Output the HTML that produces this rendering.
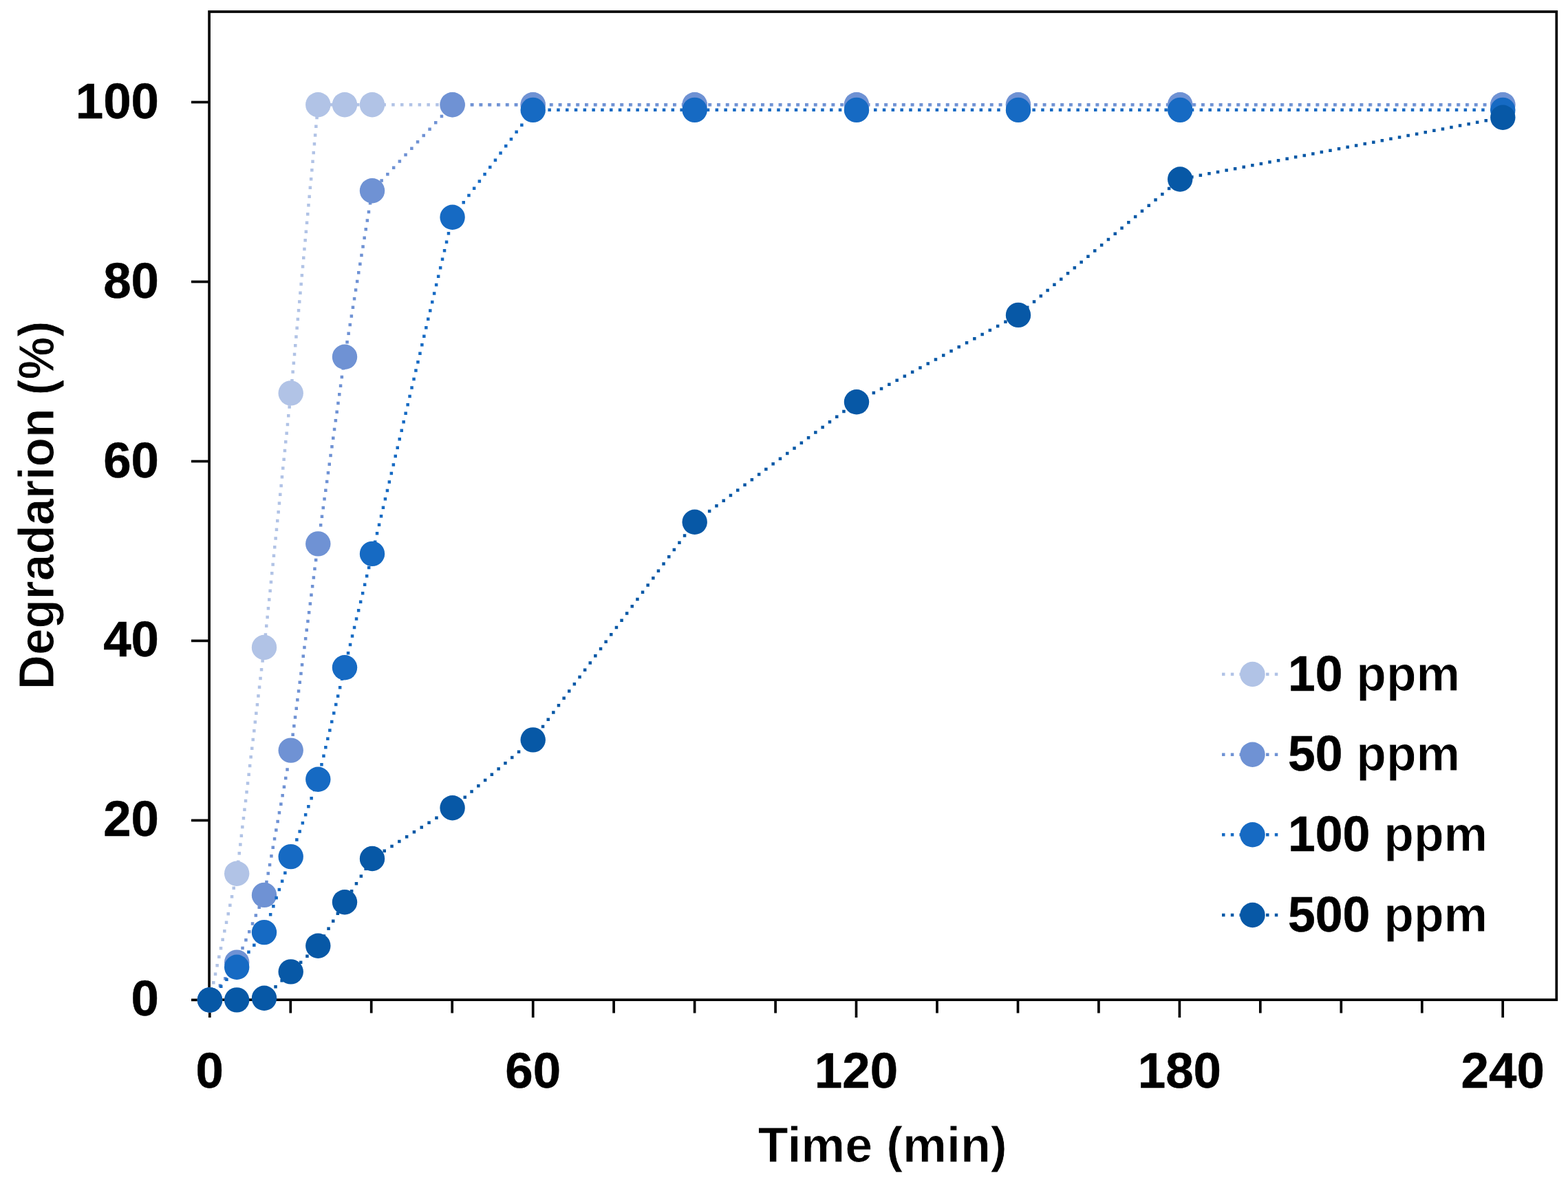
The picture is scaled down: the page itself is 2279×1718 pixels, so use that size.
<!DOCTYPE html>
<html><head><meta charset="utf-8"><title>Degradation vs Time</title>
<style>
html,body{margin:0;padding:0;background:#fff;}
body{width:2279px;height:1718px;overflow:hidden;}
svg{display:block;}
text{font-family:'Liberation Sans', Arial, sans-serif;font-weight:bold;fill:#000;}
</style></head><body>
<svg width="2279" height="1718" viewBox="0 0 2279 1718">
<rect x="0" y="0" width="2279" height="1718" fill="#fff"/>
<rect x="304.1" y="17.0" width="1958.2" height="1436.2" fill="none" stroke="#000" stroke-width="3.7"/>
<line x1="278" y1="1453.4" x2="304.1" y2="1453.4" stroke="#000" stroke-width="3.7"/>
<line x1="278" y1="1192.4" x2="304.1" y2="1192.4" stroke="#000" stroke-width="3.7"/>
<line x1="278" y1="931.4" x2="304.1" y2="931.4" stroke="#000" stroke-width="3.7"/>
<line x1="278" y1="670.5" x2="304.1" y2="670.5" stroke="#000" stroke-width="3.7"/>
<line x1="278" y1="409.5" x2="304.1" y2="409.5" stroke="#000" stroke-width="3.7"/>
<line x1="278" y1="148.5" x2="304.1" y2="148.5" stroke="#000" stroke-width="3.7"/>
<line x1="304.8" y1="1453.2" x2="304.8" y2="1479.0" stroke="#000" stroke-width="3.7"/>
<line x1="422.3" y1="1453.2" x2="422.3" y2="1472.5" stroke="#000" stroke-width="3.7"/>
<line x1="539.7" y1="1453.2" x2="539.7" y2="1472.5" stroke="#000" stroke-width="3.7"/>
<line x1="657.2" y1="1453.2" x2="657.2" y2="1472.5" stroke="#000" stroke-width="3.7"/>
<line x1="774.7" y1="1453.2" x2="774.7" y2="1479.0" stroke="#000" stroke-width="3.7"/>
<line x1="892.1" y1="1453.2" x2="892.1" y2="1472.5" stroke="#000" stroke-width="3.7"/>
<line x1="1009.6" y1="1453.2" x2="1009.6" y2="1472.5" stroke="#000" stroke-width="3.7"/>
<line x1="1127.1" y1="1453.2" x2="1127.1" y2="1472.5" stroke="#000" stroke-width="3.7"/>
<line x1="1244.5" y1="1453.2" x2="1244.5" y2="1479.0" stroke="#000" stroke-width="3.7"/>
<line x1="1362.0" y1="1453.2" x2="1362.0" y2="1472.5" stroke="#000" stroke-width="3.7"/>
<line x1="1479.5" y1="1453.2" x2="1479.5" y2="1472.5" stroke="#000" stroke-width="3.7"/>
<line x1="1596.9" y1="1453.2" x2="1596.9" y2="1472.5" stroke="#000" stroke-width="3.7"/>
<line x1="1714.4" y1="1453.2" x2="1714.4" y2="1479.0" stroke="#000" stroke-width="3.7"/>
<line x1="1831.8" y1="1453.2" x2="1831.8" y2="1472.5" stroke="#000" stroke-width="3.7"/>
<line x1="1949.3" y1="1453.2" x2="1949.3" y2="1472.5" stroke="#000" stroke-width="3.7"/>
<line x1="2066.8" y1="1453.2" x2="2066.8" y2="1472.5" stroke="#000" stroke-width="3.7"/>
<line x1="2184.2" y1="1453.2" x2="2184.2" y2="1479.0" stroke="#000" stroke-width="3.7"/>
<text x="231" y="1476.4" font-size="72.7" text-anchor="end" stroke="#000" stroke-width="0.5">0</text>
<text x="231" y="1215.4" font-size="72.7" text-anchor="end" stroke="#000" stroke-width="0.5">20</text>
<text x="231" y="954.4" font-size="72.7" text-anchor="end" stroke="#000" stroke-width="0.5">40</text>
<text x="231" y="693.5" font-size="72.7" text-anchor="end" stroke="#000" stroke-width="0.5">60</text>
<text x="231" y="432.5" font-size="72.7" text-anchor="end" stroke="#000" stroke-width="0.5">80</text>
<text x="231" y="171.5" font-size="72.7" text-anchor="end" stroke="#000" stroke-width="0.5">100</text>
<text x="304.8" y="1581" font-size="72.7" text-anchor="middle" stroke="#000" stroke-width="0.5">0</text>
<text x="774.7" y="1581" font-size="72.7" text-anchor="middle" stroke="#000" stroke-width="0.5">60</text>
<text x="1244.5" y="1581" font-size="72.7" text-anchor="middle" stroke="#000" stroke-width="0.5">120</text>
<text x="1714.4" y="1581" font-size="72.7" text-anchor="middle" stroke="#000" stroke-width="0.5">180</text>
<text x="2184.2" y="1581" font-size="72.7" text-anchor="middle" stroke="#000" stroke-width="0.5">240</text>
<text x="1282.8" y="1688.7" font-size="72.7" text-anchor="middle" textLength="362" lengthAdjust="spacingAndGlyphs" stroke="#fff" stroke-width="0.9">Time (min)</text>
<text transform="translate(77.5,734.4) rotate(-90)" x="0" y="0" font-size="72.7" text-anchor="middle" textLength="535.5" lengthAdjust="spacingAndGlyphs" stroke="#fff" stroke-width="0.9">Degradarion (%)</text>
<path fill="#b1c3e6" d="M302.8 1451.2h4.5v4.5h-4.5zM305.4 1438.6h4.5v4.5h-4.5zM308.1 1426.1h4.5v4.5h-4.5zM310.8 1413.6h4.5v4.5h-4.5zM313.4 1401.1h4.5v4.5h-4.5zM316.1 1388.6h4.5v4.5h-4.5zM318.8 1376.0h4.5v4.5h-4.5zM321.4 1363.5h4.5v4.5h-4.5zM324.1 1351.0h4.5v4.5h-4.5zM326.8 1338.5h4.5v4.5h-4.5zM329.5 1326.0h4.5v4.5h-4.5zM332.1 1313.4h4.5v4.5h-4.5zM334.8 1300.9h4.5v4.5h-4.5zM337.5 1288.4h4.5v4.5h-4.5zM340.1 1275.9h4.5v4.5h-4.5zM342.4 1263.3h4.5v4.5h-4.5zM344.0 1250.6h4.5v4.5h-4.5zM345.5 1237.9h4.5v4.5h-4.5zM347.1 1225.2h4.5v4.5h-4.5zM348.6 1212.5h4.5v4.5h-4.5zM350.1 1199.8h4.5v4.5h-4.5zM351.7 1187.1h4.5v4.5h-4.5zM353.2 1174.4h4.5v4.5h-4.5zM354.8 1161.7h4.5v4.5h-4.5zM356.3 1149.0h4.5v4.5h-4.5zM357.8 1136.2h4.5v4.5h-4.5zM359.4 1123.5h4.5v4.5h-4.5zM360.9 1110.8h4.5v4.5h-4.5zM362.4 1098.1h4.5v4.5h-4.5zM364.0 1085.4h4.5v4.5h-4.5zM365.5 1072.7h4.5v4.5h-4.5zM367.1 1060.0h4.5v4.5h-4.5zM368.6 1047.3h4.5v4.5h-4.5zM370.1 1034.6h4.5v4.5h-4.5zM371.7 1021.9h4.5v4.5h-4.5zM373.2 1009.2h4.5v4.5h-4.5zM374.8 996.5h4.5v4.5h-4.5zM376.3 983.8h4.5v4.5h-4.5zM377.8 971.0h4.5v4.5h-4.5zM379.4 958.3h4.5v4.5h-4.5zM380.9 945.6h4.5v4.5h-4.5zM382.4 932.9h4.5v4.5h-4.5zM383.7 920.2h4.5v4.5h-4.5zM385.0 907.5h4.5v4.5h-4.5zM386.4 894.7h4.5v4.5h-4.5zM387.7 882.0h4.5v4.5h-4.5zM389.0 869.3h4.5v4.5h-4.5zM390.4 856.5h4.5v4.5h-4.5zM391.7 843.8h4.5v4.5h-4.5zM393.0 831.1h4.5v4.5h-4.5zM394.4 818.3h4.5v4.5h-4.5zM395.7 805.6h4.5v4.5h-4.5zM397.0 792.9h4.5v4.5h-4.5zM398.4 780.2h4.5v4.5h-4.5zM399.7 767.4h4.5v4.5h-4.5zM401.0 754.7h4.5v4.5h-4.5zM402.4 742.0h4.5v4.5h-4.5zM403.7 729.2h4.5v4.5h-4.5zM405.0 716.5h4.5v4.5h-4.5zM406.4 703.8h4.5v4.5h-4.5zM407.7 691.0h4.5v4.5h-4.5zM409.0 678.3h4.5v4.5h-4.5zM410.4 665.6h4.5v4.5h-4.5zM411.7 652.8h4.5v4.5h-4.5zM413.0 640.1h4.5v4.5h-4.5zM414.4 627.4h4.5v4.5h-4.5zM415.7 614.7h4.5v4.5h-4.5zM417.0 601.9h4.5v4.5h-4.5zM418.4 589.2h4.5v4.5h-4.5zM419.7 576.5h4.5v4.5h-4.5zM421.0 563.7h4.5v4.5h-4.5zM422.2 551.0h4.5v4.5h-4.5zM423.4 538.2h4.5v4.5h-4.5zM424.6 525.5h4.5v4.5h-4.5zM425.8 512.8h4.5v4.5h-4.5zM427.0 500.0h4.5v4.5h-4.5zM428.2 487.3h4.5v4.5h-4.5zM429.4 474.5h4.5v4.5h-4.5zM430.6 461.8h4.5v4.5h-4.5zM431.8 449.0h4.5v4.5h-4.5zM433.0 436.3h4.5v4.5h-4.5zM434.2 423.6h4.5v4.5h-4.5zM435.4 410.8h4.5v4.5h-4.5zM436.6 398.1h4.5v4.5h-4.5zM437.8 385.3h4.5v4.5h-4.5zM439.0 372.6h4.5v4.5h-4.5zM440.2 359.8h4.5v4.5h-4.5zM441.4 347.1h4.5v4.5h-4.5zM442.6 334.4h4.5v4.5h-4.5zM443.8 321.6h4.5v4.5h-4.5zM445.0 308.9h4.5v4.5h-4.5zM446.2 296.1h4.5v4.5h-4.5zM447.4 283.4h4.5v4.5h-4.5zM448.6 270.6h4.5v4.5h-4.5zM449.9 257.9h4.5v4.5h-4.5zM451.1 245.1h4.5v4.5h-4.5zM452.3 232.4h4.5v4.5h-4.5zM453.5 219.7h4.5v4.5h-4.5zM454.7 206.9h4.5v4.5h-4.5zM455.9 194.2h4.5v4.5h-4.5zM457.1 181.4h4.5v4.5h-4.5zM458.3 168.7h4.5v4.5h-4.5zM459.5 155.9h4.5v4.5h-4.5zM466.8 149.9h4.5v4.5h-4.5zM479.6 149.9h4.5v4.5h-4.5zM492.4 149.9h4.5v4.5h-4.5zM505.2 149.9h4.5v4.5h-4.5zM518.0 149.9h4.5v4.5h-4.5zM530.8 149.9h4.5v4.5h-4.5zM543.6 149.9h4.5v4.5h-4.5zM556.4 149.9h4.5v4.5h-4.5zM569.2 149.9h4.5v4.5h-4.5zM582.0 149.9h4.5v4.5h-4.5zM594.8 149.9h4.5v4.5h-4.5zM607.6 149.9h4.5v4.5h-4.5zM620.4 149.9h4.5v4.5h-4.5zM633.2 149.9h4.5v4.5h-4.5zM646.0 149.9h4.5v4.5h-4.5zM658.8 149.9h4.5v4.5h-4.5zM671.6 149.9h4.5v4.5h-4.5zM684.4 149.9h4.5v4.5h-4.5zM697.2 149.9h4.5v4.5h-4.5zM710.0 149.9h4.5v4.5h-4.5zM722.8 149.9h4.5v4.5h-4.5zM735.6 149.9h4.5v4.5h-4.5zM748.4 149.9h4.5v4.5h-4.5zM761.2 149.9h4.5v4.5h-4.5zM774.0 149.9h4.5v4.5h-4.5zM786.8 149.9h4.5v4.5h-4.5zM799.6 149.9h4.5v4.5h-4.5zM812.4 149.9h4.5v4.5h-4.5zM825.2 149.9h4.5v4.5h-4.5zM838.0 149.9h4.5v4.5h-4.5zM850.8 149.9h4.5v4.5h-4.5zM863.6 149.9h4.5v4.5h-4.5zM876.4 149.9h4.5v4.5h-4.5zM889.2 149.9h4.5v4.5h-4.5zM902.0 149.9h4.5v4.5h-4.5zM914.8 149.9h4.5v4.5h-4.5zM927.6 149.9h4.5v4.5h-4.5zM940.4 149.9h4.5v4.5h-4.5zM953.2 149.9h4.5v4.5h-4.5zM966.0 149.9h4.5v4.5h-4.5zM978.8 149.9h4.5v4.5h-4.5zM991.6 149.9h4.5v4.5h-4.5zM1004.4 149.9h4.5v4.5h-4.5zM1017.2 149.9h4.5v4.5h-4.5zM1030.0 149.9h4.5v4.5h-4.5zM1042.8 149.9h4.5v4.5h-4.5zM1055.6 149.9h4.5v4.5h-4.5zM1068.4 149.9h4.5v4.5h-4.5zM1081.2 149.9h4.5v4.5h-4.5zM1094.0 149.9h4.5v4.5h-4.5zM1106.8 149.9h4.5v4.5h-4.5zM1119.6 149.9h4.5v4.5h-4.5zM1132.4 149.9h4.5v4.5h-4.5zM1145.2 149.9h4.5v4.5h-4.5zM1158.0 149.9h4.5v4.5h-4.5zM1170.8 149.9h4.5v4.5h-4.5zM1183.6 149.9h4.5v4.5h-4.5zM1196.4 149.9h4.5v4.5h-4.5zM1209.2 149.9h4.5v4.5h-4.5zM1222.0 149.9h4.5v4.5h-4.5zM1234.8 149.9h4.5v4.5h-4.5zM1247.6 149.9h4.5v4.5h-4.5zM1260.4 149.9h4.5v4.5h-4.5zM1273.2 149.9h4.5v4.5h-4.5zM1286.0 149.9h4.5v4.5h-4.5zM1298.8 149.9h4.5v4.5h-4.5zM1311.6 149.9h4.5v4.5h-4.5zM1324.4 149.9h4.5v4.5h-4.5zM1337.2 149.9h4.5v4.5h-4.5zM1350.0 149.9h4.5v4.5h-4.5zM1362.8 149.9h4.5v4.5h-4.5zM1375.6 149.9h4.5v4.5h-4.5zM1388.4 149.9h4.5v4.5h-4.5zM1401.2 149.9h4.5v4.5h-4.5zM1414.0 149.9h4.5v4.5h-4.5zM1426.8 149.9h4.5v4.5h-4.5zM1439.6 149.9h4.5v4.5h-4.5zM1452.4 149.9h4.5v4.5h-4.5zM1465.2 149.9h4.5v4.5h-4.5zM1478.0 149.9h4.5v4.5h-4.5zM1490.8 149.9h4.5v4.5h-4.5zM1503.6 149.9h4.5v4.5h-4.5zM1516.4 149.9h4.5v4.5h-4.5zM1529.2 149.9h4.5v4.5h-4.5zM1542.0 149.9h4.5v4.5h-4.5zM1554.8 149.9h4.5v4.5h-4.5zM1567.6 149.9h4.5v4.5h-4.5zM1580.4 149.9h4.5v4.5h-4.5zM1593.2 149.9h4.5v4.5h-4.5zM1606.0 149.9h4.5v4.5h-4.5zM1618.8 149.9h4.5v4.5h-4.5zM1631.6 149.9h4.5v4.5h-4.5zM1644.4 149.9h4.5v4.5h-4.5zM1657.2 149.9h4.5v4.5h-4.5zM1670.0 149.9h4.5v4.5h-4.5zM1682.8 149.9h4.5v4.5h-4.5zM1695.6 149.9h4.5v4.5h-4.5zM1708.4 149.9h4.5v4.5h-4.5zM1721.2 149.9h4.5v4.5h-4.5zM1734.0 149.9h4.5v4.5h-4.5zM1746.8 149.9h4.5v4.5h-4.5zM1759.6 149.9h4.5v4.5h-4.5zM1772.4 149.9h4.5v4.5h-4.5zM1785.2 149.9h4.5v4.5h-4.5zM1798.0 149.9h4.5v4.5h-4.5zM1810.8 149.9h4.5v4.5h-4.5zM1823.6 149.9h4.5v4.5h-4.5zM1836.4 149.9h4.5v4.5h-4.5zM1849.2 149.9h4.5v4.5h-4.5zM1862.0 149.9h4.5v4.5h-4.5zM1874.8 149.9h4.5v4.5h-4.5zM1887.6 149.9h4.5v4.5h-4.5zM1900.4 149.9h4.5v4.5h-4.5zM1913.2 149.9h4.5v4.5h-4.5zM1926.0 149.9h4.5v4.5h-4.5zM1938.8 149.9h4.5v4.5h-4.5zM1951.6 149.9h4.5v4.5h-4.5zM1964.4 149.9h4.5v4.5h-4.5zM1977.2 149.9h4.5v4.5h-4.5zM1990.0 149.9h4.5v4.5h-4.5zM2002.8 149.9h4.5v4.5h-4.5zM2015.6 149.9h4.5v4.5h-4.5zM2028.4 149.9h4.5v4.5h-4.5zM2041.2 149.9h4.5v4.5h-4.5zM2054.0 149.9h4.5v4.5h-4.5zM2066.8 149.9h4.5v4.5h-4.5zM2079.6 149.9h4.5v4.5h-4.5zM2092.4 149.9h4.5v4.5h-4.5zM2105.2 149.9h4.5v4.5h-4.5zM2118.0 149.9h4.5v4.5h-4.5zM2130.8 149.9h4.5v4.5h-4.5zM2143.6 149.9h4.5v4.5h-4.5zM2156.4 149.9h4.5v4.5h-4.5zM2169.2 149.9h4.5v4.5h-4.5zM2182.0 149.9h4.5v4.5h-4.5z"/>
<circle cx="305.0" cy="1453.4" r="18.2" fill="#b1c3e6"/>
<circle cx="344.2" cy="1269.7" r="18.2" fill="#b1c3e6"/>
<circle cx="384.0" cy="941.0" r="18.2" fill="#b1c3e6"/>
<circle cx="422.7" cy="571.4" r="18.2" fill="#b1c3e6"/>
<circle cx="462.3" cy="152.2" r="18.2" fill="#b1c3e6"/>
<circle cx="501.0" cy="152.2" r="18.2" fill="#b1c3e6"/>
<circle cx="541.0" cy="152.2" r="18.2" fill="#b1c3e6"/>
<circle cx="657.6" cy="152.2" r="18.2" fill="#b1c3e6"/>
<circle cx="774.7" cy="152.2" r="18.2" fill="#b1c3e6"/>
<circle cx="1009.7" cy="152.2" r="18.2" fill="#b1c3e6"/>
<circle cx="1245.0" cy="152.2" r="18.2" fill="#b1c3e6"/>
<circle cx="1480.0" cy="152.2" r="18.2" fill="#b1c3e6"/>
<circle cx="1715.2" cy="152.2" r="18.2" fill="#b1c3e6"/>
<circle cx="2184.3" cy="152.2" r="18.2" fill="#b1c3e6"/>
<path fill="#6f92d4" d="M302.8 1451.2h4.5v4.5h-4.5zM310.2 1440.7h4.5v4.5h-4.5zM317.6 1430.3h4.5v4.5h-4.5zM325.1 1419.9h4.5v4.5h-4.5zM332.5 1409.5h4.5v4.5h-4.5zM340.0 1399.1h4.5v4.5h-4.5zM345.5 1387.6h4.5v4.5h-4.5zM350.3 1375.8h4.5v4.5h-4.5zM355.2 1363.9h4.5v4.5h-4.5zM360.0 1352.1h4.5v4.5h-4.5zM364.8 1340.2h4.5v4.5h-4.5zM369.6 1328.3h4.5v4.5h-4.5zM374.5 1316.5h4.5v4.5h-4.5zM379.3 1304.6h4.5v4.5h-4.5zM382.9 1292.4h4.5v4.5h-4.5zM385.2 1279.8h4.5v4.5h-4.5zM387.5 1267.2h4.5v4.5h-4.5zM389.8 1254.7h4.5v4.5h-4.5zM392.2 1242.1h4.5v4.5h-4.5zM394.5 1229.5h4.5v4.5h-4.5zM396.8 1216.9h4.5v4.5h-4.5zM399.1 1204.3h4.5v4.5h-4.5zM401.4 1191.7h4.5v4.5h-4.5zM403.7 1179.1h4.5v4.5h-4.5zM406.1 1166.5h4.5v4.5h-4.5zM408.4 1153.9h4.5v4.5h-4.5zM410.7 1141.4h4.5v4.5h-4.5zM413.0 1128.8h4.5v4.5h-4.5zM415.3 1116.2h4.5v4.5h-4.5zM417.7 1103.6h4.5v4.5h-4.5zM420.0 1091.0h4.5v4.5h-4.5zM421.8 1078.3h4.5v4.5h-4.5zM423.4 1065.6h4.5v4.5h-4.5zM425.1 1053.0h4.5v4.5h-4.5zM426.8 1040.3h4.5v4.5h-4.5zM428.5 1027.6h4.5v4.5h-4.5zM430.1 1014.9h4.5v4.5h-4.5zM431.8 1002.2h4.5v4.5h-4.5zM433.5 989.5h4.5v4.5h-4.5zM435.2 976.8h4.5v4.5h-4.5zM436.8 964.1h4.5v4.5h-4.5zM438.5 951.4h4.5v4.5h-4.5zM440.2 938.7h4.5v4.5h-4.5zM441.9 926.1h4.5v4.5h-4.5zM443.5 913.4h4.5v4.5h-4.5zM445.2 900.7h4.5v4.5h-4.5zM446.9 888.0h4.5v4.5h-4.5zM448.6 875.3h4.5v4.5h-4.5zM450.2 862.6h4.5v4.5h-4.5zM451.9 849.9h4.5v4.5h-4.5zM453.6 837.2h4.5v4.5h-4.5zM455.2 824.5h4.5v4.5h-4.5zM456.9 811.8h4.5v4.5h-4.5zM458.6 799.2h4.5v4.5h-4.5zM460.3 786.5h4.5v4.5h-4.5zM462.1 773.8h4.5v4.5h-4.5zM463.9 761.1h4.5v4.5h-4.5zM465.7 748.5h4.5v4.5h-4.5zM467.5 735.8h4.5v4.5h-4.5zM469.3 723.1h4.5v4.5h-4.5zM471.1 710.4h4.5v4.5h-4.5zM472.9 697.8h4.5v4.5h-4.5zM474.7 685.1h4.5v4.5h-4.5zM476.5 672.4h4.5v4.5h-4.5zM478.3 659.7h4.5v4.5h-4.5zM480.2 647.1h4.5v4.5h-4.5zM482.0 634.4h4.5v4.5h-4.5zM483.8 621.7h4.5v4.5h-4.5zM485.6 609.1h4.5v4.5h-4.5zM487.4 596.4h4.5v4.5h-4.5zM489.2 583.7h4.5v4.5h-4.5zM491.0 571.0h4.5v4.5h-4.5zM492.8 558.4h4.5v4.5h-4.5zM494.6 545.7h4.5v4.5h-4.5zM496.4 533.0h4.5v4.5h-4.5zM498.2 520.4h4.5v4.5h-4.5zM500.2 507.7h4.5v4.5h-4.5zM502.3 495.1h4.5v4.5h-4.5zM504.4 482.5h4.5v4.5h-4.5zM506.5 469.8h4.5v4.5h-4.5zM508.6 457.2h4.5v4.5h-4.5zM510.7 444.6h4.5v4.5h-4.5zM512.8 431.9h4.5v4.5h-4.5zM514.8 419.3h4.5v4.5h-4.5zM516.9 406.7h4.5v4.5h-4.5zM519.0 394.1h4.5v4.5h-4.5zM521.1 381.4h4.5v4.5h-4.5zM523.2 368.8h4.5v4.5h-4.5zM525.3 356.2h4.5v4.5h-4.5zM527.4 343.5h4.5v4.5h-4.5zM529.5 330.9h4.5v4.5h-4.5zM531.6 318.3h4.5v4.5h-4.5zM533.7 305.7h4.5v4.5h-4.5zM535.8 293.0h4.5v4.5h-4.5zM537.8 280.4h4.5v4.5h-4.5zM543.7 269.6h4.5v4.5h-4.5zM552.4 260.3h4.5v4.5h-4.5zM561.1 250.9h4.5v4.5h-4.5zM569.9 241.5h4.5v4.5h-4.5zM578.6 232.2h4.5v4.5h-4.5zM587.3 222.8h4.5v4.5h-4.5zM596.1 213.5h4.5v4.5h-4.5zM604.8 204.1h4.5v4.5h-4.5zM613.5 194.7h4.5v4.5h-4.5zM622.3 185.4h4.5v4.5h-4.5zM631.0 176.0h4.5v4.5h-4.5zM639.7 166.7h4.5v4.5h-4.5zM648.4 157.3h4.5v4.5h-4.5zM658.0 149.9h4.5v4.5h-4.5zM670.8 149.9h4.5v4.5h-4.5zM683.6 149.9h4.5v4.5h-4.5zM696.4 149.9h4.5v4.5h-4.5zM709.2 149.9h4.5v4.5h-4.5zM722.0 149.9h4.5v4.5h-4.5zM734.8 149.9h4.5v4.5h-4.5zM747.6 149.9h4.5v4.5h-4.5zM760.4 149.9h4.5v4.5h-4.5zM773.2 149.9h4.5v4.5h-4.5zM786.0 149.9h4.5v4.5h-4.5zM798.8 149.9h4.5v4.5h-4.5zM811.6 149.9h4.5v4.5h-4.5zM824.4 149.9h4.5v4.5h-4.5zM837.2 149.9h4.5v4.5h-4.5zM850.0 149.9h4.5v4.5h-4.5zM862.8 149.9h4.5v4.5h-4.5zM875.6 149.9h4.5v4.5h-4.5zM888.4 149.9h4.5v4.5h-4.5zM901.2 149.9h4.5v4.5h-4.5zM914.0 149.9h4.5v4.5h-4.5zM926.8 149.9h4.5v4.5h-4.5zM939.6 149.9h4.5v4.5h-4.5zM952.4 149.9h4.5v4.5h-4.5zM965.2 149.9h4.5v4.5h-4.5zM978.0 149.9h4.5v4.5h-4.5zM990.8 149.9h4.5v4.5h-4.5zM1003.6 149.9h4.5v4.5h-4.5zM1016.4 149.9h4.5v4.5h-4.5zM1029.2 149.9h4.5v4.5h-4.5zM1042.0 149.9h4.5v4.5h-4.5zM1054.8 149.9h4.5v4.5h-4.5zM1067.6 149.9h4.5v4.5h-4.5zM1080.4 149.9h4.5v4.5h-4.5zM1093.2 149.9h4.5v4.5h-4.5zM1106.0 149.9h4.5v4.5h-4.5zM1118.8 149.9h4.5v4.5h-4.5zM1131.6 149.9h4.5v4.5h-4.5zM1144.4 149.9h4.5v4.5h-4.5zM1157.2 149.9h4.5v4.5h-4.5zM1170.0 149.9h4.5v4.5h-4.5zM1182.8 149.9h4.5v4.5h-4.5zM1195.6 149.9h4.5v4.5h-4.5zM1208.4 149.9h4.5v4.5h-4.5zM1221.2 149.9h4.5v4.5h-4.5zM1234.0 149.9h4.5v4.5h-4.5zM1246.8 149.9h4.5v4.5h-4.5zM1259.6 149.9h4.5v4.5h-4.5zM1272.4 149.9h4.5v4.5h-4.5zM1285.2 149.9h4.5v4.5h-4.5zM1298.0 149.9h4.5v4.5h-4.5zM1310.8 149.9h4.5v4.5h-4.5zM1323.6 149.9h4.5v4.5h-4.5zM1336.4 149.9h4.5v4.5h-4.5zM1349.2 149.9h4.5v4.5h-4.5zM1362.0 149.9h4.5v4.5h-4.5zM1374.8 149.9h4.5v4.5h-4.5zM1387.6 149.9h4.5v4.5h-4.5zM1400.4 149.9h4.5v4.5h-4.5zM1413.2 149.9h4.5v4.5h-4.5zM1426.0 149.9h4.5v4.5h-4.5zM1438.8 149.9h4.5v4.5h-4.5zM1451.6 149.9h4.5v4.5h-4.5zM1464.4 149.9h4.5v4.5h-4.5zM1477.2 149.9h4.5v4.5h-4.5zM1490.0 149.9h4.5v4.5h-4.5zM1502.8 149.9h4.5v4.5h-4.5zM1515.6 149.9h4.5v4.5h-4.5zM1528.4 149.9h4.5v4.5h-4.5zM1541.2 149.9h4.5v4.5h-4.5zM1554.0 149.9h4.5v4.5h-4.5zM1566.8 149.9h4.5v4.5h-4.5zM1579.6 149.9h4.5v4.5h-4.5zM1592.4 149.9h4.5v4.5h-4.5zM1605.2 149.9h4.5v4.5h-4.5zM1618.0 149.9h4.5v4.5h-4.5zM1630.8 149.9h4.5v4.5h-4.5zM1643.6 149.9h4.5v4.5h-4.5zM1656.4 149.9h4.5v4.5h-4.5zM1669.2 149.9h4.5v4.5h-4.5zM1682.0 149.9h4.5v4.5h-4.5zM1694.8 149.9h4.5v4.5h-4.5zM1707.6 149.9h4.5v4.5h-4.5zM1720.4 149.9h4.5v4.5h-4.5zM1733.2 149.9h4.5v4.5h-4.5zM1746.0 149.9h4.5v4.5h-4.5zM1758.8 149.9h4.5v4.5h-4.5zM1771.6 149.9h4.5v4.5h-4.5zM1784.4 149.9h4.5v4.5h-4.5zM1797.2 149.9h4.5v4.5h-4.5zM1810.0 149.9h4.5v4.5h-4.5zM1822.8 149.9h4.5v4.5h-4.5zM1835.6 149.9h4.5v4.5h-4.5zM1848.4 149.9h4.5v4.5h-4.5zM1861.2 149.9h4.5v4.5h-4.5zM1874.0 149.9h4.5v4.5h-4.5zM1886.8 149.9h4.5v4.5h-4.5zM1899.6 149.9h4.5v4.5h-4.5zM1912.4 149.9h4.5v4.5h-4.5zM1925.2 149.9h4.5v4.5h-4.5zM1938.0 149.9h4.5v4.5h-4.5zM1950.8 149.9h4.5v4.5h-4.5zM1963.6 149.9h4.5v4.5h-4.5zM1976.4 149.9h4.5v4.5h-4.5zM1989.2 149.9h4.5v4.5h-4.5zM2002.0 149.9h4.5v4.5h-4.5zM2014.8 149.9h4.5v4.5h-4.5zM2027.6 149.9h4.5v4.5h-4.5zM2040.4 149.9h4.5v4.5h-4.5zM2053.2 149.9h4.5v4.5h-4.5zM2066.0 149.9h4.5v4.5h-4.5zM2078.8 149.9h4.5v4.5h-4.5zM2091.6 149.9h4.5v4.5h-4.5zM2104.4 149.9h4.5v4.5h-4.5zM2117.2 149.9h4.5v4.5h-4.5zM2130.0 149.9h4.5v4.5h-4.5zM2142.8 149.9h4.5v4.5h-4.5zM2155.6 149.9h4.5v4.5h-4.5zM2168.4 149.9h4.5v4.5h-4.5zM2181.2 149.9h4.5v4.5h-4.5z"/>
<circle cx="305.0" cy="1453.4" r="18.2" fill="#6f92d4"/>
<circle cx="344.2" cy="1398.6" r="18.2" fill="#6f92d4"/>
<circle cx="384.0" cy="1300.9" r="18.2" fill="#6f92d4"/>
<circle cx="422.7" cy="1090.6" r="18.2" fill="#6f92d4"/>
<circle cx="462.3" cy="790.4" r="18.2" fill="#6f92d4"/>
<circle cx="501.0" cy="518.8" r="18.2" fill="#6f92d4"/>
<circle cx="541.0" cy="277.2" r="18.2" fill="#6f92d4"/>
<circle cx="657.6" cy="152.2" r="18.2" fill="#6f92d4"/>
<circle cx="774.7" cy="152.2" r="18.2" fill="#6f92d4"/>
<circle cx="1009.7" cy="152.2" r="18.2" fill="#6f92d4"/>
<circle cx="1245.0" cy="152.2" r="18.2" fill="#6f92d4"/>
<circle cx="1480.0" cy="152.2" r="18.2" fill="#6f92d4"/>
<circle cx="1715.2" cy="152.2" r="18.2" fill="#6f92d4"/>
<circle cx="2184.3" cy="152.2" r="18.2" fill="#6f92d4"/>
<path fill="#166ac3" d="M302.8 1451.2h4.5v4.5h-4.5zM310.9 1441.3h4.5v4.5h-4.5zM319.0 1431.4h4.5v4.5h-4.5zM327.2 1421.5h4.5v4.5h-4.5zM335.3 1411.6h4.5v4.5h-4.5zM343.4 1401.7h4.5v4.5h-4.5zM351.3 1391.6h4.5v4.5h-4.5zM359.2 1381.6h4.5v4.5h-4.5zM367.1 1371.5h4.5v4.5h-4.5zM375.0 1361.4h4.5v4.5h-4.5zM382.4 1351.1h4.5v4.5h-4.5zM386.6 1339.0h4.5v4.5h-4.5zM390.9 1326.9h4.5v4.5h-4.5zM395.1 1314.9h4.5v4.5h-4.5zM399.4 1302.8h4.5v4.5h-4.5zM403.6 1290.7h4.5v4.5h-4.5zM407.9 1278.6h4.5v4.5h-4.5zM412.1 1266.6h4.5v4.5h-4.5zM416.4 1254.5h4.5v4.5h-4.5zM420.6 1242.4h4.5v4.5h-4.5zM424.9 1230.3h4.5v4.5h-4.5zM429.1 1218.3h4.5v4.5h-4.5zM433.4 1206.2h4.5v4.5h-4.5zM437.6 1194.1h4.5v4.5h-4.5zM441.9 1182.1h4.5v4.5h-4.5zM446.1 1170.0h4.5v4.5h-4.5zM450.4 1157.9h4.5v4.5h-4.5zM454.7 1145.8h4.5v4.5h-4.5zM458.9 1133.8h4.5v4.5h-4.5zM462.2 1121.4h4.5v4.5h-4.5zM465.2 1109.0h4.5v4.5h-4.5zM468.2 1096.5h4.5v4.5h-4.5zM471.1 1084.1h4.5v4.5h-4.5zM474.1 1071.6h4.5v4.5h-4.5zM477.1 1059.2h4.5v4.5h-4.5zM480.0 1046.7h4.5v4.5h-4.5zM483.0 1034.3h4.5v4.5h-4.5zM486.0 1021.8h4.5v4.5h-4.5zM488.9 1009.4h4.5v4.5h-4.5zM491.9 996.9h4.5v4.5h-4.5zM494.8 984.4h4.5v4.5h-4.5zM497.8 972.0h4.5v4.5h-4.5zM500.8 959.6h4.5v4.5h-4.5zM503.8 947.1h4.5v4.5h-4.5zM506.8 934.7h4.5v4.5h-4.5zM509.8 922.2h4.5v4.5h-4.5zM512.8 909.8h4.5v4.5h-4.5zM515.8 897.3h4.5v4.5h-4.5zM518.9 884.9h4.5v4.5h-4.5zM521.9 872.5h4.5v4.5h-4.5zM524.9 860.0h4.5v4.5h-4.5zM527.9 847.6h4.5v4.5h-4.5zM530.9 835.1h4.5v4.5h-4.5zM533.9 822.7h4.5v4.5h-4.5zM536.9 810.3h4.5v4.5h-4.5zM539.9 797.8h4.5v4.5h-4.5zM542.9 785.4h4.5v4.5h-4.5zM545.8 772.9h4.5v4.5h-4.5zM548.8 760.5h4.5v4.5h-4.5zM551.8 748.0h4.5v4.5h-4.5zM554.7 735.6h4.5v4.5h-4.5zM557.7 723.1h4.5v4.5h-4.5zM560.7 710.7h4.5v4.5h-4.5zM563.6 698.2h4.5v4.5h-4.5zM566.6 685.7h4.5v4.5h-4.5zM569.6 673.3h4.5v4.5h-4.5zM572.5 660.8h4.5v4.5h-4.5zM575.5 648.4h4.5v4.5h-4.5zM578.5 635.9h4.5v4.5h-4.5zM581.5 623.5h4.5v4.5h-4.5zM584.4 611.0h4.5v4.5h-4.5zM587.4 598.6h4.5v4.5h-4.5zM590.4 586.1h4.5v4.5h-4.5zM593.3 573.7h4.5v4.5h-4.5zM596.3 561.2h4.5v4.5h-4.5zM599.3 548.8h4.5v4.5h-4.5zM602.2 536.3h4.5v4.5h-4.5zM605.2 523.9h4.5v4.5h-4.5zM608.2 511.4h4.5v4.5h-4.5zM611.1 499.0h4.5v4.5h-4.5zM614.1 486.5h4.5v4.5h-4.5zM617.1 474.1h4.5v4.5h-4.5zM620.0 461.6h4.5v4.5h-4.5zM623.0 449.2h4.5v4.5h-4.5zM626.0 436.7h4.5v4.5h-4.5zM628.9 424.3h4.5v4.5h-4.5zM631.9 411.8h4.5v4.5h-4.5zM634.9 399.4h4.5v4.5h-4.5zM637.9 386.9h4.5v4.5h-4.5zM640.8 374.5h4.5v4.5h-4.5zM643.8 362.0h4.5v4.5h-4.5zM646.8 349.6h4.5v4.5h-4.5zM649.7 337.1h4.5v4.5h-4.5zM652.7 324.7h4.5v4.5h-4.5zM656.2 312.5h4.5v4.5h-4.5zM663.9 302.2h4.5v4.5h-4.5zM671.5 292.0h4.5v4.5h-4.5zM679.2 281.7h4.5v4.5h-4.5zM686.9 271.5h4.5v4.5h-4.5zM694.6 261.3h4.5v4.5h-4.5zM702.3 251.0h4.5v4.5h-4.5zM710.0 240.8h4.5v4.5h-4.5zM717.7 230.6h4.5v4.5h-4.5zM725.3 220.3h4.5v4.5h-4.5zM733.0 210.1h4.5v4.5h-4.5zM740.7 199.9h4.5v4.5h-4.5zM748.4 189.6h4.5v4.5h-4.5zM756.1 179.4h4.5v4.5h-4.5zM763.8 169.2h4.5v4.5h-4.5zM771.5 158.9h4.5v4.5h-4.5zM783.6 157.6h4.5v4.5h-4.5zM796.4 157.6h4.5v4.5h-4.5zM809.2 157.6h4.5v4.5h-4.5zM822.0 157.6h4.5v4.5h-4.5zM834.8 157.6h4.5v4.5h-4.5zM847.6 157.6h4.5v4.5h-4.5zM860.4 157.6h4.5v4.5h-4.5zM873.2 157.6h4.5v4.5h-4.5zM886.0 157.6h4.5v4.5h-4.5zM898.8 157.6h4.5v4.5h-4.5zM911.6 157.6h4.5v4.5h-4.5zM924.4 157.6h4.5v4.5h-4.5zM937.2 157.6h4.5v4.5h-4.5zM950.0 157.6h4.5v4.5h-4.5zM962.8 157.6h4.5v4.5h-4.5zM975.6 157.6h4.5v4.5h-4.5zM988.4 157.6h4.5v4.5h-4.5zM1001.2 157.6h4.5v4.5h-4.5zM1014.0 157.6h4.5v4.5h-4.5zM1026.8 157.6h4.5v4.5h-4.5zM1039.6 157.6h4.5v4.5h-4.5zM1052.4 157.6h4.5v4.5h-4.5zM1065.2 157.6h4.5v4.5h-4.5zM1078.0 157.6h4.5v4.5h-4.5zM1090.8 157.6h4.5v4.5h-4.5zM1103.6 157.6h4.5v4.5h-4.5zM1116.4 157.6h4.5v4.5h-4.5zM1129.2 157.6h4.5v4.5h-4.5zM1142.0 157.6h4.5v4.5h-4.5zM1154.8 157.6h4.5v4.5h-4.5zM1167.6 157.6h4.5v4.5h-4.5zM1180.4 157.6h4.5v4.5h-4.5zM1193.2 157.6h4.5v4.5h-4.5zM1206.0 157.6h4.5v4.5h-4.5zM1218.8 157.6h4.5v4.5h-4.5zM1231.6 157.6h4.5v4.5h-4.5zM1244.4 157.6h4.5v4.5h-4.5zM1257.2 157.6h4.5v4.5h-4.5zM1270.0 157.6h4.5v4.5h-4.5zM1282.8 157.6h4.5v4.5h-4.5zM1295.6 157.6h4.5v4.5h-4.5zM1308.4 157.6h4.5v4.5h-4.5zM1321.2 157.6h4.5v4.5h-4.5zM1334.0 157.6h4.5v4.5h-4.5zM1346.8 157.6h4.5v4.5h-4.5zM1359.6 157.6h4.5v4.5h-4.5zM1372.4 157.6h4.5v4.5h-4.5zM1385.2 157.6h4.5v4.5h-4.5zM1398.0 157.6h4.5v4.5h-4.5zM1410.8 157.6h4.5v4.5h-4.5zM1423.6 157.6h4.5v4.5h-4.5zM1436.4 157.6h4.5v4.5h-4.5zM1449.2 157.6h4.5v4.5h-4.5zM1462.0 157.6h4.5v4.5h-4.5zM1474.8 157.6h4.5v4.5h-4.5zM1487.6 157.6h4.5v4.5h-4.5zM1500.4 157.6h4.5v4.5h-4.5zM1513.2 157.6h4.5v4.5h-4.5zM1526.0 157.6h4.5v4.5h-4.5zM1538.8 157.6h4.5v4.5h-4.5zM1551.6 157.6h4.5v4.5h-4.5zM1564.4 157.6h4.5v4.5h-4.5zM1577.2 157.6h4.5v4.5h-4.5zM1590.0 157.6h4.5v4.5h-4.5zM1602.8 157.6h4.5v4.5h-4.5zM1615.6 157.6h4.5v4.5h-4.5zM1628.4 157.6h4.5v4.5h-4.5zM1641.2 157.6h4.5v4.5h-4.5zM1654.0 157.6h4.5v4.5h-4.5zM1666.8 157.6h4.5v4.5h-4.5zM1679.6 157.6h4.5v4.5h-4.5zM1692.4 157.6h4.5v4.5h-4.5zM1705.2 157.6h4.5v4.5h-4.5zM1718.0 157.6h4.5v4.5h-4.5zM1730.8 157.6h4.5v4.5h-4.5zM1743.6 157.6h4.5v4.5h-4.5zM1756.4 157.6h4.5v4.5h-4.5zM1769.2 157.6h4.5v4.5h-4.5zM1782.0 157.6h4.5v4.5h-4.5zM1794.8 157.6h4.5v4.5h-4.5zM1807.6 157.6h4.5v4.5h-4.5zM1820.4 157.6h4.5v4.5h-4.5zM1833.2 157.6h4.5v4.5h-4.5zM1846.0 157.6h4.5v4.5h-4.5zM1858.8 157.6h4.5v4.5h-4.5zM1871.6 157.6h4.5v4.5h-4.5zM1884.4 157.6h4.5v4.5h-4.5zM1897.2 157.6h4.5v4.5h-4.5zM1910.0 157.6h4.5v4.5h-4.5zM1922.8 157.6h4.5v4.5h-4.5zM1935.6 157.6h4.5v4.5h-4.5zM1948.4 157.6h4.5v4.5h-4.5zM1961.2 157.6h4.5v4.5h-4.5zM1974.0 157.6h4.5v4.5h-4.5zM1986.8 157.6h4.5v4.5h-4.5zM1999.6 157.6h4.5v4.5h-4.5zM2012.4 157.6h4.5v4.5h-4.5zM2025.2 157.6h4.5v4.5h-4.5zM2038.0 157.6h4.5v4.5h-4.5zM2050.8 157.6h4.5v4.5h-4.5zM2063.6 157.6h4.5v4.5h-4.5zM2076.4 157.6h4.5v4.5h-4.5zM2089.2 157.6h4.5v4.5h-4.5zM2102.0 157.6h4.5v4.5h-4.5zM2114.8 157.6h4.5v4.5h-4.5zM2127.6 157.6h4.5v4.5h-4.5zM2140.4 157.6h4.5v4.5h-4.5zM2153.2 157.6h4.5v4.5h-4.5zM2166.0 157.6h4.5v4.5h-4.5zM2178.8 157.6h4.5v4.5h-4.5z"/>
<circle cx="305.0" cy="1453.4" r="18.2" fill="#166ac3"/>
<circle cx="344.2" cy="1405.8" r="18.2" fill="#166ac3"/>
<circle cx="384.0" cy="1355.1" r="18.2" fill="#166ac3"/>
<circle cx="422.7" cy="1245.1" r="18.2" fill="#166ac3"/>
<circle cx="462.3" cy="1132.8" r="18.2" fill="#166ac3"/>
<circle cx="501.0" cy="970.3" r="18.2" fill="#166ac3"/>
<circle cx="541.0" cy="804.9" r="18.2" fill="#166ac3"/>
<circle cx="657.6" cy="315.8" r="18.2" fill="#166ac3"/>
<circle cx="774.7" cy="159.9" r="18.2" fill="#166ac3"/>
<circle cx="1009.7" cy="159.9" r="18.2" fill="#166ac3"/>
<circle cx="1245.0" cy="159.9" r="18.2" fill="#166ac3"/>
<circle cx="1480.0" cy="159.9" r="18.2" fill="#166ac3"/>
<circle cx="1715.2" cy="159.9" r="18.2" fill="#166ac3"/>
<circle cx="2184.3" cy="159.9" r="18.2" fill="#166ac3"/>
<path fill="#0758a6" d="M302.8 1451.2h4.5v4.5h-4.5zM315.6 1451.2h4.5v4.5h-4.5zM328.4 1451.2h4.5v4.5h-4.5zM341.1 1451.2h4.5v4.5h-4.5zM353.9 1450.4h4.5v4.5h-4.5zM366.7 1449.5h4.5v4.5h-4.5zM379.5 1448.7h4.5v4.5h-4.5zM389.2 1441.1h4.5v4.5h-4.5zM398.3 1432.1h4.5v4.5h-4.5zM407.4 1423.1h4.5v4.5h-4.5zM416.5 1414.1h4.5v4.5h-4.5zM425.7 1405.2h4.5v4.5h-4.5zM434.9 1396.4h4.5v4.5h-4.5zM444.2 1387.5h4.5v4.5h-4.5zM453.5 1378.7h4.5v4.5h-4.5zM462.0 1369.3h4.5v4.5h-4.5zM468.7 1358.3h4.5v4.5h-4.5zM475.3 1347.4h4.5v4.5h-4.5zM482.0 1336.5h4.5v4.5h-4.5zM488.6 1325.5h4.5v4.5h-4.5zM495.3 1314.6h4.5v4.5h-4.5zM502.0 1303.7h4.5v4.5h-4.5zM508.9 1292.9h4.5v4.5h-4.5zM515.7 1282.1h4.5v4.5h-4.5zM522.6 1271.3h4.5v4.5h-4.5zM529.4 1260.5h4.5v4.5h-4.5zM536.3 1249.7h4.5v4.5h-4.5zM545.7 1241.4h4.5v4.5h-4.5zM556.5 1234.5h4.5v4.5h-4.5zM567.3 1227.7h4.5v4.5h-4.5zM578.1 1220.8h4.5v4.5h-4.5zM588.9 1214.0h4.5v4.5h-4.5zM599.7 1207.1h4.5v4.5h-4.5zM610.5 1200.3h4.5v4.5h-4.5zM621.3 1193.4h4.5v4.5h-4.5zM632.2 1186.6h4.5v4.5h-4.5zM643.0 1179.7h4.5v4.5h-4.5zM653.8 1172.9h4.5v4.5h-4.5zM663.7 1164.8h4.5v4.5h-4.5zM673.5 1156.6h4.5v4.5h-4.5zM683.3 1148.3h4.5v4.5h-4.5zM693.1 1140.1h4.5v4.5h-4.5zM702.9 1131.8h4.5v4.5h-4.5zM712.6 1123.6h4.5v4.5h-4.5zM722.4 1115.3h4.5v4.5h-4.5zM732.2 1107.1h4.5v4.5h-4.5zM742.0 1098.8h4.5v4.5h-4.5zM751.8 1090.6h4.5v4.5h-4.5zM761.6 1082.3h4.5v4.5h-4.5zM771.3 1074.1h4.5v4.5h-4.5zM779.2 1064.0h4.5v4.5h-4.5zM786.8 1053.7h4.5v4.5h-4.5zM794.5 1043.5h4.5v4.5h-4.5zM802.1 1033.2h4.5v4.5h-4.5zM809.7 1022.9h4.5v4.5h-4.5zM817.4 1012.6h4.5v4.5h-4.5zM825.0 1002.3h4.5v4.5h-4.5zM832.6 992.1h4.5v4.5h-4.5zM840.3 981.8h4.5v4.5h-4.5zM847.9 971.5h4.5v4.5h-4.5zM855.5 961.2h4.5v4.5h-4.5zM863.1 951.0h4.5v4.5h-4.5zM870.8 940.7h4.5v4.5h-4.5zM878.4 930.4h4.5v4.5h-4.5zM886.0 920.1h4.5v4.5h-4.5zM893.7 909.8h4.5v4.5h-4.5zM901.3 899.6h4.5v4.5h-4.5zM908.9 889.3h4.5v4.5h-4.5zM916.5 879.0h4.5v4.5h-4.5zM924.2 868.7h4.5v4.5h-4.5zM931.8 858.5h4.5v4.5h-4.5zM939.4 848.2h4.5v4.5h-4.5zM947.1 837.9h4.5v4.5h-4.5zM954.7 827.6h4.5v4.5h-4.5zM962.3 817.3h4.5v4.5h-4.5zM970.0 807.1h4.5v4.5h-4.5zM977.6 796.8h4.5v4.5h-4.5zM985.2 786.5h4.5v4.5h-4.5zM992.8 776.2h4.5v4.5h-4.5zM1000.5 766.0h4.5v4.5h-4.5zM1008.3 755.9h4.5v4.5h-4.5zM1018.6 748.3h4.5v4.5h-4.5zM1028.9 740.7h4.5v4.5h-4.5zM1039.2 733.0h4.5v4.5h-4.5zM1049.5 725.4h4.5v4.5h-4.5zM1059.7 717.8h4.5v4.5h-4.5zM1070.0 710.2h4.5v4.5h-4.5zM1080.3 702.5h4.5v4.5h-4.5zM1090.6 694.9h4.5v4.5h-4.5zM1100.9 687.3h4.5v4.5h-4.5zM1111.1 679.7h4.5v4.5h-4.5zM1121.4 672.0h4.5v4.5h-4.5zM1131.7 664.4h4.5v4.5h-4.5zM1142.0 656.8h4.5v4.5h-4.5zM1152.3 649.2h4.5v4.5h-4.5zM1162.6 641.5h4.5v4.5h-4.5zM1172.8 633.9h4.5v4.5h-4.5zM1183.1 626.3h4.5v4.5h-4.5zM1193.4 618.7h4.5v4.5h-4.5zM1203.7 611.1h4.5v4.5h-4.5zM1214.0 603.4h4.5v4.5h-4.5zM1224.2 595.8h4.5v4.5h-4.5zM1234.5 588.2h4.5v4.5h-4.5zM1245.0 580.9h4.5v4.5h-4.5zM1256.3 574.8h4.5v4.5h-4.5zM1267.6 568.7h4.5v4.5h-4.5zM1278.8 562.7h4.5v4.5h-4.5zM1290.1 556.6h4.5v4.5h-4.5zM1301.4 550.5h4.5v4.5h-4.5zM1312.6 544.5h4.5v4.5h-4.5zM1323.9 538.4h4.5v4.5h-4.5zM1335.2 532.3h4.5v4.5h-4.5zM1346.5 526.3h4.5v4.5h-4.5zM1357.7 520.2h4.5v4.5h-4.5zM1369.0 514.2h4.5v4.5h-4.5zM1380.3 508.1h4.5v4.5h-4.5zM1391.5 502.0h4.5v4.5h-4.5zM1402.8 496.0h4.5v4.5h-4.5zM1414.1 489.9h4.5v4.5h-4.5zM1425.4 483.8h4.5v4.5h-4.5zM1436.6 477.8h4.5v4.5h-4.5zM1447.9 471.7h4.5v4.5h-4.5zM1459.2 465.6h4.5v4.5h-4.5zM1470.4 459.6h4.5v4.5h-4.5zM1481.2 452.7h4.5v4.5h-4.5zM1491.0 444.5h4.5v4.5h-4.5zM1500.8 436.3h4.5v4.5h-4.5zM1510.6 428.1h4.5v4.5h-4.5zM1520.4 419.8h4.5v4.5h-4.5zM1530.2 411.6h4.5v4.5h-4.5zM1540.0 403.4h4.5v4.5h-4.5zM1549.8 395.1h4.5v4.5h-4.5zM1559.6 386.9h4.5v4.5h-4.5zM1569.4 378.7h4.5v4.5h-4.5zM1579.2 370.4h4.5v4.5h-4.5zM1589.0 362.2h4.5v4.5h-4.5zM1598.9 354.0h4.5v4.5h-4.5zM1608.7 345.8h4.5v4.5h-4.5zM1618.5 337.5h4.5v4.5h-4.5zM1628.3 329.3h4.5v4.5h-4.5zM1638.1 321.1h4.5v4.5h-4.5zM1647.9 312.8h4.5v4.5h-4.5zM1657.7 304.6h4.5v4.5h-4.5zM1667.5 296.4h4.5v4.5h-4.5zM1677.3 288.2h4.5v4.5h-4.5zM1687.1 279.9h4.5v4.5h-4.5zM1696.9 271.7h4.5v4.5h-4.5zM1706.7 263.5h4.5v4.5h-4.5zM1717.5 257.3h4.5v4.5h-4.5zM1730.1 254.9h4.5v4.5h-4.5zM1742.6 252.5h4.5v4.5h-4.5zM1755.2 250.1h4.5v4.5h-4.5zM1767.8 247.7h4.5v4.5h-4.5zM1780.4 245.3h4.5v4.5h-4.5zM1792.9 242.9h4.5v4.5h-4.5zM1805.5 240.5h4.5v4.5h-4.5zM1818.1 238.1h4.5v4.5h-4.5zM1830.6 235.7h4.5v4.5h-4.5zM1843.2 233.3h4.5v4.5h-4.5zM1855.8 230.9h4.5v4.5h-4.5zM1868.4 228.5h4.5v4.5h-4.5zM1880.9 226.1h4.5v4.5h-4.5zM1893.5 223.7h4.5v4.5h-4.5zM1906.1 221.2h4.5v4.5h-4.5zM1918.6 218.8h4.5v4.5h-4.5zM1931.2 216.4h4.5v4.5h-4.5zM1943.8 214.0h4.5v4.5h-4.5zM1956.4 211.6h4.5v4.5h-4.5zM1968.9 209.2h4.5v4.5h-4.5zM1981.5 206.8h4.5v4.5h-4.5zM1994.1 204.4h4.5v4.5h-4.5zM2006.6 202.0h4.5v4.5h-4.5zM2019.2 199.6h4.5v4.5h-4.5zM2031.8 197.2h4.5v4.5h-4.5zM2044.4 194.8h4.5v4.5h-4.5zM2056.9 192.4h4.5v4.5h-4.5zM2069.5 190.0h4.5v4.5h-4.5zM2082.1 187.6h4.5v4.5h-4.5zM2094.7 185.2h4.5v4.5h-4.5zM2107.2 182.8h4.5v4.5h-4.5zM2119.8 180.3h4.5v4.5h-4.5zM2132.4 177.9h4.5v4.5h-4.5zM2144.9 175.5h4.5v4.5h-4.5zM2157.5 173.1h4.5v4.5h-4.5zM2170.1 170.7h4.5v4.5h-4.5z"/>
<circle cx="305.0" cy="1453.4" r="18.2" fill="#0758a6"/>
<circle cx="344.2" cy="1453.4" r="18.2" fill="#0758a6"/>
<circle cx="384.0" cy="1450.8" r="18.2" fill="#0758a6"/>
<circle cx="422.7" cy="1412.4" r="18.2" fill="#0758a6"/>
<circle cx="462.3" cy="1374.7" r="18.2" fill="#0758a6"/>
<circle cx="501.0" cy="1311.2" r="18.2" fill="#0758a6"/>
<circle cx="541.0" cy="1248.0" r="18.2" fill="#0758a6"/>
<circle cx="657.6" cy="1174.2" r="18.2" fill="#0758a6"/>
<circle cx="774.7" cy="1075.4" r="18.2" fill="#0758a6"/>
<circle cx="1009.7" cy="758.8" r="18.2" fill="#0758a6"/>
<circle cx="1245.0" cy="584.3" r="18.2" fill="#0758a6"/>
<circle cx="1480.0" cy="457.9" r="18.2" fill="#0758a6"/>
<circle cx="1715.2" cy="260.5" r="18.2" fill="#0758a6"/>
<circle cx="2184.3" cy="170.7" r="18.2" fill="#0758a6"/>
<path fill="#b1c3e6" d="M1776.0 977.8h4.5v4.5h-4.5zM1788.8 977.8h4.5v4.5h-4.5zM1801.5 977.8h4.5v4.5h-4.5zM1814.4 977.8h4.5v4.5h-4.5zM1827.2 977.8h4.5v4.5h-4.5zM1840.0 977.8h4.5v4.5h-4.5zM1852.8 977.8h4.5v4.5h-4.5z"/>
<circle cx="1820.5" cy="980.0" r="18.2" fill="#b1c3e6"/>
<text x="1872" y="1003.7" font-size="72.7" textLength="250.0" lengthAdjust="spacingAndGlyphs"><tspan stroke="#000" stroke-width="0.5">10</tspan><tspan stroke="#fff" stroke-width="0.9"> ppm</tspan></text>
<path fill="#6f92d4" d="M1776.0 1094.4h4.5v4.5h-4.5zM1788.8 1094.4h4.5v4.5h-4.5zM1801.5 1094.4h4.5v4.5h-4.5zM1814.4 1094.4h4.5v4.5h-4.5zM1827.2 1094.4h4.5v4.5h-4.5zM1840.0 1094.4h4.5v4.5h-4.5zM1852.8 1094.4h4.5v4.5h-4.5z"/>
<circle cx="1820.5" cy="1096.7" r="18.2" fill="#6f92d4"/>
<text x="1872" y="1120.4" font-size="72.7" textLength="250.0" lengthAdjust="spacingAndGlyphs"><tspan stroke="#000" stroke-width="0.5">50</tspan><tspan stroke="#fff" stroke-width="0.9"> ppm</tspan></text>
<path fill="#166ac3" d="M1776.0 1211.1h4.5v4.5h-4.5zM1788.8 1211.1h4.5v4.5h-4.5zM1801.5 1211.1h4.5v4.5h-4.5zM1814.4 1211.1h4.5v4.5h-4.5zM1827.2 1211.1h4.5v4.5h-4.5zM1840.0 1211.1h4.5v4.5h-4.5zM1852.8 1211.1h4.5v4.5h-4.5z"/>
<circle cx="1820.5" cy="1213.3" r="18.2" fill="#166ac3"/>
<text x="1872" y="1237.0" font-size="72.7" textLength="290.2" lengthAdjust="spacingAndGlyphs"><tspan stroke="#000" stroke-width="0.5">100</tspan><tspan stroke="#fff" stroke-width="0.9"> ppm</tspan></text>
<path fill="#0758a6" d="M1776.0 1327.8h4.5v4.5h-4.5zM1788.8 1327.8h4.5v4.5h-4.5zM1801.5 1327.8h4.5v4.5h-4.5zM1814.4 1327.8h4.5v4.5h-4.5zM1827.2 1327.8h4.5v4.5h-4.5zM1840.0 1327.8h4.5v4.5h-4.5zM1852.8 1327.8h4.5v4.5h-4.5z"/>
<circle cx="1820.5" cy="1330.0" r="18.2" fill="#0758a6"/>
<text x="1872" y="1353.7" font-size="72.7" textLength="290.2" lengthAdjust="spacingAndGlyphs"><tspan stroke="#000" stroke-width="0.5">500</tspan><tspan stroke="#fff" stroke-width="0.9"> ppm</tspan></text>
</svg>
</body></html>
